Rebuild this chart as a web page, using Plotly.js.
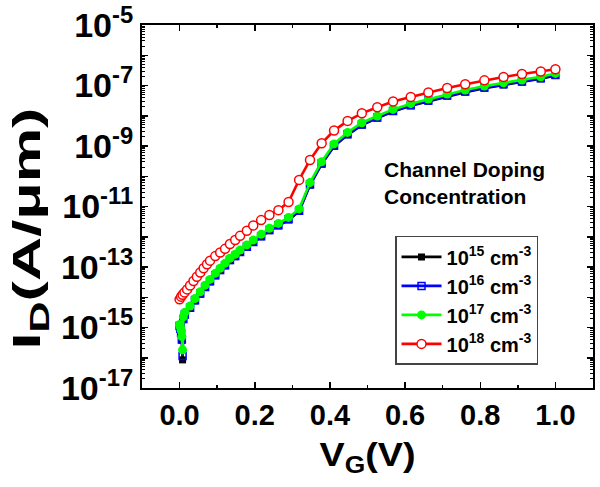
<!DOCTYPE html>
<html>
<head>
<meta charset="utf-8">
<script src="https://cdn.plot.ly/plotly-3.0.1.min.js"></script>
<style>
  html, body { margin: 0; padding: 0; background: #fff; }
  #chart { width: 600px; height: 487px; }
</style>
</head>
<body>
<div id="chart"></div>
<script>
// ---- Data (currents stored as log10 of A/um) ----
const seriesNames = ['10<sup>15</sup> cm<sup>-3</sup>', '10<sup>16</sup> cm<sup>-3</sup>',
                     '10<sup>17</sup> cm<sup>-3</sup>', '10<sup>18</sup> cm<sup>-3</sup>'];

const vgLow = [0.000, 0.002, 0.004, 0.006, 0.008, 0.010, 0.014, 0.028, 0.041, 0.055, 0.068,
  0.081, 0.095, 0.108, 0.121, 0.134, 0.148, 0.161, 0.179, 0.196, 0.217, 0.239, 0.263, 0.290,
  0.318, 0.347, 0.378, 0.411, 0.447, 0.485, 0.526, 0.568, 0.615, 0.662, 0.712, 0.760, 0.811,
  0.862, 0.911, 0.961, 1.000];

const logId15 = [-14.97, -15.06, -15.20, -15.42, -16.07, -14.74, -14.59, -14.37, -14.12, -13.90,
  -13.68, -13.49, -13.29, -13.12, -12.96, -12.79, -12.66, -12.52, -12.35, -12.19, -12.00, -11.80,
  -11.64, -11.44, -11.16, -10.29, -9.60, -9.01, -8.63, -8.31, -8.08, -7.86, -7.67, -7.52, -7.35,
  -7.22, -7.09, -6.98, -6.89, -6.78, -6.67];

const logId16 = [-14.95, -15.04, -15.18, -15.40, -15.94, -14.72, -14.57, -14.35, -14.10, -13.88,
  -13.66, -13.47, -13.27, -13.10, -12.94, -12.77, -12.64, -12.50, -12.33, -12.17, -11.98, -11.78,
  -11.62, -11.42, -11.14, -10.27, -9.58, -8.99, -8.61, -8.29, -8.06, -7.84, -7.65, -7.50, -7.33,
  -7.20, -7.07, -6.96, -6.87, -6.76, -6.65];

const logId17 = [-14.90, -14.98, -15.10, -15.30, -15.74, -14.65, -14.50, -14.29, -14.04, -13.82,
  -13.60, -13.41, -13.21, -13.04, -12.88, -12.71, -12.58, -12.44, -12.27, -12.11, -11.92, -11.72,
  -11.56, -11.36, -11.08, -10.21, -9.52, -8.93, -8.55, -8.23, -8.01, -7.79, -7.60, -7.45, -7.28,
  -7.15, -7.02, -6.91, -6.82, -6.71, -6.60];

const vgHigh = [0.000, 0.004, 0.008, 0.013, 0.020, 0.028, 0.037, 0.046, 0.055, 0.064, 0.073,
  0.081, 0.095, 0.108, 0.121, 0.134, 0.148, 0.161, 0.179, 0.196, 0.217, 0.239, 0.263, 0.290,
  0.318, 0.347, 0.378, 0.411, 0.447, 0.485, 0.526, 0.568, 0.615, 0.662, 0.712, 0.760, 0.811,
  0.862, 0.911, 0.961, 1.000];

const logId18 = [-14.07, -13.98, -13.92, -13.84, -13.74, -13.61, -13.46, -13.32, -13.18, -13.04,
  -12.91, -12.79, -12.64, -12.52, -12.40, -12.24, -12.11, -11.97, -11.80, -11.63, -11.45, -11.28,
  -11.12, -10.85, -10.12, -9.46, -8.91, -8.49, -8.17, -7.92, -7.72, -7.53, -7.38, -7.23, -7.08,
  -6.96, -6.83, -6.72, -6.62, -6.54, -6.465];

const xTickVals = [0.0, 0.2, 0.4, 0.6, 0.8, 1.0];
const xTickText = ['0.0', '0.2', '0.4', '0.6', '0.8', '1.0'];
const yTickVals = [1e-17, 1e-16, 1e-15, 1e-14, 1e-13, 1e-12, 1e-11, 1e-10, 1e-9, 1e-8, 1e-7, 1e-6, 1e-5];
const yTickText = ['10<sup>-17</sup>', '', '10<sup>-15</sup>', '', '10<sup>-13</sup>', '',
  '10<sup>-11</sup>', '', '10<sup>-9</sup>', '', '10<sup>-7</sup>', '', '10<sup>-5</sup>'];

const annotationText = 'Channel Doping<br>Concentration';

// ---- Chart ----
const FONT = 'Liberation Sans, Arial, Helvetica, sans-serif';
const toAmp = arr => arr.map(v => Math.pow(10, v));

const traces = [
  { x: vgLow, y: toAmp(logId15), name: seriesNames[0], mode: 'lines+markers',
    line: { color: '#000000', width: 2.6 },
    marker: { symbol: 'square', size: 7, color: '#000000' } },
  { x: vgLow, y: toAmp(logId16), name: seriesNames[1], mode: 'lines+markers',
    line: { color: '#0000ff', width: 2.6 },
    marker: { symbol: 'square-open', size: 7, color: '#0000ff', line: { width: 1.5 } } },
  { x: vgLow, y: toAmp(logId17), name: seriesNames[2], mode: 'lines+markers',
    line: { color: '#00ff00', width: 2.6 },
    marker: { symbol: 'circle', size: 9, color: '#00ff00' } },
  { x: vgHigh, y: toAmp(logId18), name: seriesNames[3], mode: 'lines+markers',
    line: { color: '#ff0000', width: 2.6 },
    marker: { symbol: 'circle', size: 9, color: '#ffffff', line: { color: '#ff0000', width: 1.5 } } }
];

const axisCommon = {
  showline: true, linecolor: '#000', linewidth: 2, mirror: 'allticks',
  ticks: 'inside', ticklen: 6, tickwidth: 1.5, tickcolor: '#000',
  showgrid: false, zeroline: false
};

const layout = {
  width: 600, height: 487,
  margin: { l: 142, r: 7, t: 25, b: 99 },
  paper_bgcolor: '#fff', plot_bgcolor: '#fff',
  font: { family: FONT, color: '#000', weight: 700 },
  showlegend: true,
  legend: {
    x: 0.561, y: 0.419, xanchor: 'left', yanchor: 'top',
    bgcolor: '#fff', bordercolor: '#444', borderwidth: 1.5,
    font: { family: FONT, size: 20, color: '#000', weight: 700 },
    itemwidth: 40, tracegroupgap: 0
  },
  xaxis: Object.assign({}, axisCommon, {
    range: [-0.1, 1.1], tickmode: 'array', tickvals: xTickVals, ticktext: xTickText,
    tickfont: { family: FONT, size: 29, weight: 700 },
    minor: { dtick: 0.1, ticks: 'inside', ticklen: 3, tickwidth: 1.5, tickcolor: '#000' },
    title: { text: 'V<sub>G</sub>(V)', font: { family: FONT, size: 34, weight: 700 }, standoff: 12 }
  }),
  yaxis: Object.assign({}, axisCommon, {
    type: 'log', range: [-17, -5], tickmode: 'array', tickvals: yTickVals, ticktext: yTickText,
    tickfont: { family: FONT, size: 34, weight: 700 },
    minor: { dtick: 'D1', ticks: 'inside', ticklen: 3, tickwidth: 1, tickcolor: '#000' },
    title: { text: 'I<sub>D</sub>(A/μm)', font: { family: FONT, size: 39, weight: 700 }, standoff: 10 }
  }),
  annotations: [{
    xref: 'paper', yref: 'paper', x: (382 - 142) / 451, y: 1 - (183 - 25) / 363,
    xanchor: 'left', yanchor: 'middle', align: 'left', showarrow: false,
    text: annotationText, font: { family: FONT, size: 21, color: '#000', weight: 700 }
  }]
};

Plotly.newPlot('chart', traces, layout, { displayModeBar: false, staticPlot: true }).then(gd => {
  // The reference draws its axis titles horizontally stretched; stretch the real text to match.
  const yt = gd.querySelector('.ytitle');
  if (yt) {
    yt.setAttribute('textLength', '242');
    yt.setAttribute('lengthAdjust', 'spacingAndGlyphs');
    const tr = yt.getAttribute('transform') || '';
    yt.setAttribute('transform', 'translate(2,22) ' + tr);
  }
  const xt = gd.querySelector('.xtitle');
  if (xt) {
    xt.setAttribute('textLength', '96');
    xt.setAttribute('lengthAdjust', 'spacingAndGlyphs');
  }
});
</script>
</body>
</html>
